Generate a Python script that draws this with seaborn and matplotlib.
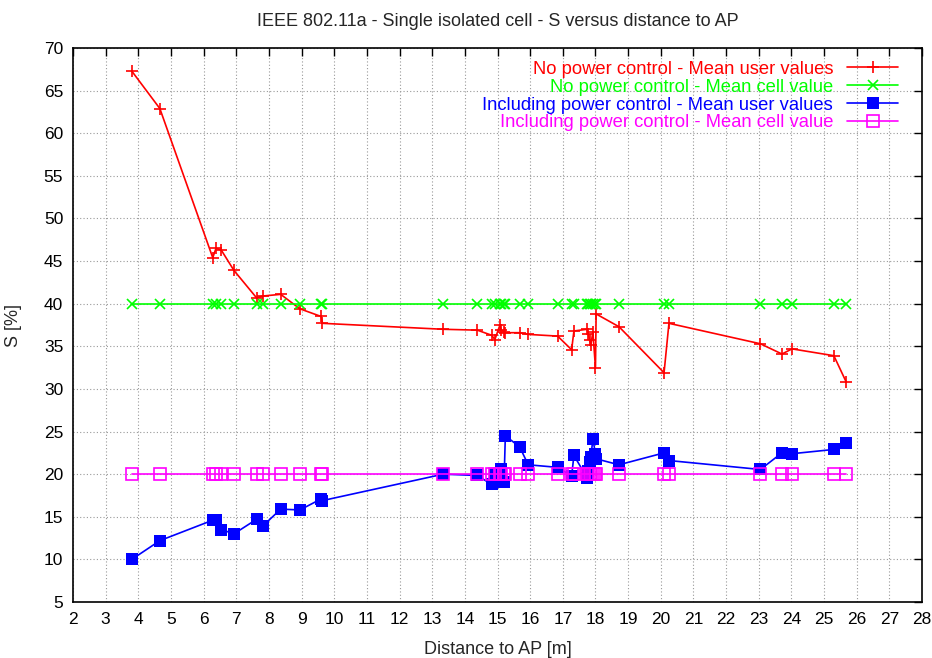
import matplotlib
matplotlib.use("Agg")
import matplotlib.pyplot as plt
import seaborn as sns
import pandas as pd

# Distance of each user to the access point [m]
distance = [3.80, 4.66, 6.28, 6.38, 6.54, 6.93, 7.62, 7.81, 8.36, 8.95,
            9.60, 9.64, 13.34, 14.38, 14.82, 14.92, 15.07, 15.12, 15.20, 15.24,
            15.68, 15.94, 16.84, 17.27, 17.34, 17.74, 17.78, 17.82, 17.86, 17.92,
            18.00, 18.02, 18.72, 20.10, 20.25, 23.05, 23.71, 24.02, 25.30, 25.68]

# S [%] without power control, per user
s_no_pc_user = [67.3, 62.9, 45.4, 46.5, 46.3, 43.9, 40.7, 40.9, 41.1, 39.4,
                38.5, 37.7, 37.0, 36.9, 36.3, 35.8, 37.45, 36.9, 36.7, 36.6,
                36.6, 36.4, 36.2, 34.6, 36.8, 37.0, 36.5, 35.7, 35.2, 36.7,
                32.5, 38.8, 37.3, 31.9, 37.7, 35.3, 34.1, 34.7, 33.9, 30.8]
# Mean cell value without power control
s_no_pc_cell = 40.0

# S [%] including power control, per user
s_pc_user = [10.0, 12.2, 14.6, 14.6, 13.5, 13.0, 14.7, 13.9, 15.9, 15.8,
             17.1, 16.9, 20.0, 19.85, 18.8, 20.0, 20.1, 20.6, 19.1, 24.5,
             23.2, 21.1, 20.8, 19.8, 22.2, 19.6, 20.4, 21.4, 22.0, 24.15,
             22.4, 21.8, 21.1, 22.5, 21.6, 20.55, 22.5, 22.4, 22.9, 23.7]
# Mean cell value including power control
s_pc_cell = 20.0

labels = ["No power control - Mean user values",
          "No power control - Mean cell value",
          "Including power control - Mean user values",
          "Including power control - Mean cell value"]

x_ticks = list(range(2, 29))
y_ticks = list(range(5, 71, 5))

df = pd.DataFrame({
    "distance": distance,
    "no_pc_user": s_no_pc_user,
    "no_pc_cell": [s_no_pc_cell] * len(distance),
    "pc_user": s_pc_user,
    "pc_cell": [s_pc_cell] * len(distance),
})

sns.set_style("white")
plt.rcParams["font.family"] = ["Liberation Sans", "DejaVu Sans"]

fig = plt.figure(figsize=(9.32, 6.58), dpi=100)
ax = fig.add_axes([0.0783, 0.0851, 0.9110, 0.8419])

styles = [
    ("no_pc_user", "#ff0000", "+", dict(markersize=9, markeredgewidth=1.2)),
    ("no_pc_cell", "#00ff00", "x", dict(markersize=7, markeredgewidth=1.2)),
    ("pc_user", "#0000ff", "s", dict(markersize=8, markeredgewidth=0)),
    ("pc_cell", "#ff00ff", "s", dict(markersize=8, markeredgewidth=1.2,
                                     markerfacecolor="none")),
]
for (col, color, marker, kw), lab in zip(styles, labels):
    sns.lineplot(data=df, x="distance", y=col, ax=ax, color=color,
                 marker=marker, markeredgecolor=color, linewidth=1.2,
                 estimator=None, sort=False, label=lab, **kw)

ax.set_xlim(2, 28)
ax.set_ylim(5, 70)
ax.set_xticks(x_ticks)
ax.set_yticks(y_ticks)
ax.grid(True, color="#999999", linestyle=(0, (1, 2)), linewidth=0.8)
ax.tick_params(direction="in", length=6, width=1, top=True, right=True,
               labelsize=12.5, pad=7, colors="black")
for s in ax.spines.values():
    s.set_color("black")
    s.set_linewidth(1.2)

ax.set_xlabel("Distance to AP [m]", fontsize=13, labelpad=10)
ax.set_ylabel("S [%]", fontsize=13, labelpad=16)
ax.set_title("IEEE 802.11a - Single isolated cell - S versus distance to AP",
             fontsize=13, pad=16)

leg = ax.legend(loc="upper right", bbox_to_anchor=(0.985, 0.997), frameon=False,
                markerfirst=False, labelcolor="linecolor", fontsize=13.2,
                handlelength=2.8, handletextpad=0.75, labelspacing=0.05,
                borderaxespad=0.2)
for col_box in leg._legend_handle_box.get_children():
    col_box.align = "right"

fig.savefig("out.png", dpi=100)
